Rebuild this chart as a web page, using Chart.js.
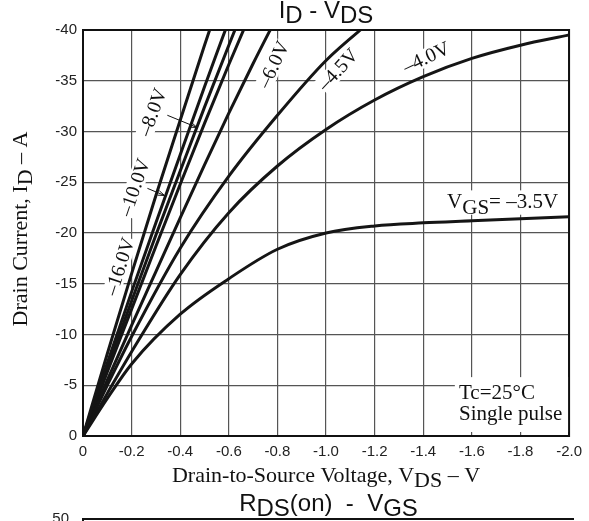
<!DOCTYPE html>
<html>
<head>
<meta charset="utf-8">
<script src="https://cdn.jsdelivr.net/npm/chart.js@4.4.1/dist/chart.umd.min.js"></script>
<style>
  html, body { margin: 0; padding: 0; background: #fff; overflow: hidden; }
  #marco { position: relative; width: 589px; height: 521px; }
  #grafico { position: absolute; left: 0; top: 0; }
  #graficoRds { position: absolute; left: 0; top: 488px; }
</style>
</head>
<body>
<div id="marco">
  <canvas id="grafico" width="589" height="488"></canvas>
  <canvas id="graficoRds" width="589" height="260"></canvas>
</div>
<script>
window.addEventListener("DOMContentLoaded", main);

const ID_GRAFICO = "grafico";
const ID_GRAFICO_RDS = "graficoRds";

const FUENTE_TICKS = "'Liberation Sans Narrow', 'Liberation Sans', sans-serif";
const FUENTE_SERIF = "'Liberation Serif', 'Times New Roman', serif";

// ticks de los ejes
const TICKS_VDS = [0, -0.2, -0.4, -0.6, -0.8, -1.0, -1.2, -1.4, -1.6, -1.8, -2.0];
const TICKS_ID = [0, -5, -10, -15, -20, -25, -30, -35, -40];

// curvas ID - VDS para cada VGS
const VGS = ["-16.0V", "-10.0V", "-8.0V", "", "-6.0V", "-4.5V", "-4.0V", "-3.5V"];
const VDS_RECTAS = [0, -0.1, -0.2, -0.3, -0.4, -0.5, -0.6, -0.7, -0.8];
const ID_VGS_16 = [0, -8.1, -16.0, -23.7, -31.1, -38.5, -45.6];
const ID_VGS_10 = [0, -7.2, -14.2, -21.0, -27.7, -34.4, -40.9, -47.0];
const ID_VGS_8 = [0, -6.7, -13.3, -19.8, -26.1, -32.4, -38.5, -44.5];
const ID_VGS_7 = [0, -6.3, -12.5, -18.7, -24.8, -30.8, -36.6, -42.2];
const ID_VGS_6 = [0, -5.5, -10.9, -16.2, -21.5, -26.7, -31.8, -36.7, -41.4];
const VDS_CURVAS = [0, -0.1, -0.2, -0.4, -0.6, -0.8, -1.0, -1.2, -1.4, -1.6, -1.8, -2.0];
const ID_VGS_45 = [0, -5.0, -9.8, -18.5, -25.6, -31.6, -37.0, -41.2];
const ID_VGS_40 = [0, -4.2, -8.3, -15.9, -22.0, -26.6, -30.2, -33.1, -35.4, -37.2, -38.5, -39.5];
const ID_VGS_35 = [0, -3.7, -7.1, -12.0, -15.5, -18.4, -20.0, -20.7, -21.0, -21.2, -21.4, -21.6];

// rótulos sobre las curvas: [indice VGS, vds, id, angulo en grados]
const ROTULOS = [
    [0, -0.151, -16.7, -72],
    [1, -0.212, -24.5, -71],
    [2, -0.286, -31.9, -70],
    [4, -0.784, -36.6, -65],
    [5, -1.049, -36.1, -47],
    [6, -1.412, -37.3, -25]
];
// flechas de -10.0V y -8.0V: [vds0, id0, vds1, id1]
const FLECHAS = [
    [-0.265, -24.4, -0.335, -23.7],
    [-0.347, -31.6, -0.469, -30.4]
];

// segundo gráfico (RDS(on) - VGS), solo asoma la parte de arriba
const TICKS_RDS = [0, 10, 20, 30, 40, 50];

function puntos(xs, ys){
    return ys.map((y, k) => ({x: xs[k], y: y}));
}

function textoConSub(ctx, partes, x, y, bajada, align){
    let ancho = 0;
    for (const [t] of partes) ancho += ctx.measureText(t).width;
    let x0 = align === "center" ? x - ancho / 2 : x;
    for (const [t, sub] of partes) {
        ctx.fillText(t, x0, sub ? y + bajada : y);
        x0 += ctx.measureText(t).width;
    }
    return ancho;
}

const anotaciones = {
    id: "anotaciones",
    beforeDatasetsDraw(chart){
        const ctx = chart.ctx;
        const sx = chart.scales.x, sy = chart.scales.y;
        ctx.save();
        ctx.fillStyle = "#fff";
        ctx.font = "20px " + FUENTE_SERIF;
        for (const [k, v, i, ang] of ROTULOS) {
            const w = ctx.measureText(VGS[k]).width + 4;
            ctx.save();
            ctx.translate(sx.getPixelForValue(v), sy.getPixelForValue(i));
            ctx.rotate(ang * Math.PI / 180);
            ctx.fillRect(-w / 2, -9, w, 18);
            ctx.restore();
        }
        // huecos de la rejilla detrás de los textos de la derecha
        const l35 = sx.getPixelForValue(-1.49), t35 = sy.getPixelForValue(-24.2);
        ctx.fillRect(l35, t35, sx.getPixelForValue(-1.98) - l35, sy.getPixelForValue(-21.8) - t35);
        const lTc = sx.getPixelForValue(-1.53), tTc = sy.getPixelForValue(-5.8);
        ctx.fillRect(lTc, tTc, chart.chartArea.right - lTc, chart.chartArea.bottom - 4 - tTc);
        ctx.restore();
    },
    afterDatasetsDraw(chart){
        const ctx = chart.ctx;
        const a = chart.chartArea;
        const sx = chart.scales.x, sy = chart.scales.y;
        ctx.save();
        ctx.fillStyle = "#111";
        ctx.strokeStyle = "#111";

        // marco
        ctx.lineWidth = 2;
        ctx.strokeRect(a.left, a.top, a.right - a.left, a.bottom - a.top);

        // rótulos inclinados
        ctx.font = "20px " + FUENTE_SERIF;
        ctx.textAlign = "center";
        ctx.textBaseline = "middle";
        for (const [k, v, i, ang] of ROTULOS) {
            ctx.save();
            ctx.translate(sx.getPixelForValue(v), sy.getPixelForValue(i));
            ctx.rotate(ang * Math.PI / 180);
            ctx.fillText(VGS[k].replace("-", "\u2013"), 0, 1);
            ctx.restore();
        }

        // flechas
        ctx.lineWidth = 1;
        for (const [v0, i0, v1, i1] of FLECHAS) {
            const x0 = sx.getPixelForValue(v0), y0 = sy.getPixelForValue(i0);
            const x1 = sx.getPixelForValue(v1), y1 = sy.getPixelForValue(i1);
            const ang = Math.atan2(y1 - y0, x1 - x0);
            ctx.beginPath();
            ctx.moveTo(x0, y0);
            ctx.lineTo(x1, y1);
            ctx.moveTo(x1 - 7 * Math.cos(ang - 0.35), y1 - 7 * Math.sin(ang - 0.35));
            ctx.lineTo(x1, y1);
            ctx.lineTo(x1 - 7 * Math.cos(ang + 0.35), y1 - 7 * Math.sin(ang + 0.35));
            ctx.stroke();
        }

        // VGS= -3.5V
        ctx.textAlign = "left";
        ctx.textBaseline = "alphabetic";
        ctx.font = "21px " + FUENTE_SERIF;
        textoConSub(ctx, [["V"], ["GS", true], ["= \u2013" + VGS[7].slice(1)]],
            sx.getPixelForValue(-1.498), sy.getPixelForValue(-22.5), 6, "left");

        // condiciones de medida
        ctx.fillText("Tc=25\u00b0C", sx.getPixelForValue(-1.547), sy.getPixelForValue(-3.6));
        ctx.fillText("Single pulse", sx.getPixelForValue(-1.547), sy.getPixelForValue(-1.6));
        ctx.restore();
    },
    afterDraw(chart){
        const ctx = chart.ctx;
        const a = chart.chartArea;
        const cx = (a.left + a.right) / 2;
        ctx.save();
        ctx.fillStyle = "#111";
        ctx.textBaseline = "alphabetic";

        // título
        ctx.font = "24px " + FUENTE_TICKS;
        textoConSub(ctx, [["I"], ["D", true], [" - V"], ["DS", true]], cx, 18, 5, "center");

        // título eje X
        ctx.font = "22px " + FUENTE_SERIF;
        textoConSub(ctx, [["Drain-to-Source Voltage, V"], ["DS", true], [" \u2013 V"]], cx, 482, 5, "center");

        // título eje Y
        ctx.translate(27, (a.top + a.bottom) / 2 - 4);
        ctx.rotate(-Math.PI / 2);
        textoConSub(ctx, [["Drain Current, I"], ["D", true], [" \u2013 A"]], 0, 0, 5, "center");
        ctx.restore();
    }
};

const tituloRds = {
    id: "tituloRds",
    afterDraw(chart){
        const ctx = chart.ctx;
        const a = chart.chartArea;
        ctx.save();
        ctx.fillStyle = "#111";
        ctx.font = "24px " + FUENTE_TICKS;
        ctx.textBaseline = "alphabetic";
        textoConSub(ctx, [["R"], ["DS", true], ["(on)  -  V"], ["GS", true]], (a.left + a.right) / 2, 23, 5, "center");

        // borde superior del área del gráfico
        ctx.strokeStyle = "#111";
        ctx.lineWidth = 2;
        ctx.beginPath();
        ctx.moveTo(a.left, a.top);
        ctx.lineTo(a.right, a.top);
        ctx.stroke();
        ctx.restore();
    }
};

function main(){
    const estiloCurva = { borderColor: "#151515", borderWidth: 3, pointRadius: 0,
        fill: false, cubicInterpolationMode: "monotone", clip: 0 };
    const series = [
        puntos(VDS_RECTAS, ID_VGS_16),
        puntos(VDS_RECTAS, ID_VGS_10),
        puntos(VDS_RECTAS, ID_VGS_8),
        puntos(VDS_RECTAS, ID_VGS_7),
        puntos(VDS_RECTAS, ID_VGS_6),
        puntos(VDS_CURVAS, ID_VGS_45),
        puntos(VDS_CURVAS, ID_VGS_40),
        puntos(VDS_CURVAS, ID_VGS_35)
    ];
    const rejilla = { color: "#555", lineWidth: 1.2, drawTicks: false };

    let ctx = document.getElementById(ID_GRAFICO)?.getContext("2d");
    if (ctx) {
        new Chart(ctx, {
            type: "line",
            data: { datasets: series.map((d, k) => Object.assign({ label: VGS[k], data: d }, estiloCurva)) },
            options: {
                responsive: false,
                animation: false,
                layout: { padding: { left: 0, right: 15, top: 30, bottom: 0 } },
                plugins: { legend: { display: false }, tooltip: { enabled: false } },
                scales: {
                    x: {
                        type: "linear", min: -2, max: 0, reverse: true,
                        grid: rejilla, border: { display: false },
                        afterBuildTicks: s => { s.ticks = TICKS_VDS.map(v => ({ value: v })); },
                        afterFit: s => { s.height = 488 - 436; },
                        ticks: { color: "#222", padding: 7, maxRotation: 0, autoSkip: false,
                            font: { family: FUENTE_TICKS, size: 15 },
                            callback: v => v === 0 ? "0" : v.toFixed(1) }
                    },
                    y: {
                        type: "linear", min: -40, max: 0, reverse: true,
                        grid: rejilla, border: { display: false },
                        afterBuildTicks: s => { s.ticks = TICKS_ID.map(v => ({ value: v })); },
                        afterFit: s => { s.width = 83; },
                        ticks: { color: "#222", padding: 6, autoSkip: false,
                            font: { family: FUENTE_TICKS, size: 15 },
                            callback: v => String(v) }
                    }
                }
            },
            plugins: [anotaciones]
        });
    }

    let ctx2 = document.getElementById(ID_GRAFICO_RDS)?.getContext("2d");
    if (ctx2) {
        new Chart(ctx2, {
            type: "line",
            data: { datasets: [] },
            options: {
                responsive: false,
                animation: false,
                layout: { padding: { left: 0, right: 15, top: 31, bottom: 0 } },
                plugins: { legend: { display: false }, tooltip: { enabled: false } },
                scales: {
                    x: { type: "linear", min: 0, max: 1, display: false },
                    y: {
                        type: "linear", min: 0, max: 50,
                        grid: { display: false },
                        border: { display: true, color: "#111", width: 2 },
                        afterBuildTicks: s => { s.ticks = TICKS_RDS.map(v => ({ value: v })); },
                        afterFit: s => { s.width = 83; },
                        ticks: { color: "#222", padding: 6, font: { family: FUENTE_TICKS, size: 15 } }
                    }
                }
            },
            plugins: [tituloRds]
        });
    }
}
</script>
</body>
</html>
